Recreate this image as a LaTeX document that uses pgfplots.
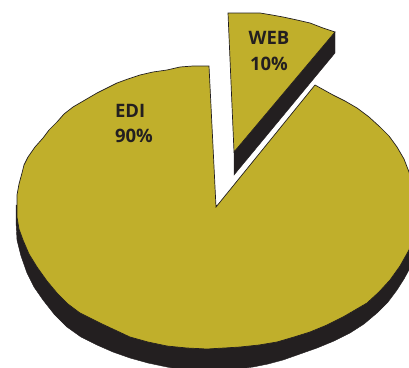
\documentclass[border=0pt]{standalone}
\usepackage{pgfplots}
\pgfplotsset{compat=1.18}
\usepackage{pgfplotstable}
\usepackage{fontspec}
\setmainfont{Open Sans}
\definecolor{pieolive}{RGB}{192,175,43}
\definecolor{piedark}{RGB}{35,31,32}

% outlines, in pixels
\pgfplotstableread{
x y
16 205
16 222
17 240
21 256
27 273
34 287
43 300
54 314
67 327
81 337
97 345
113 352
130 358
148 363
167 367
185 370
205 371
230 370
253 367
268 364
283 360
300 354
317 348
334 341
350 333
364 324
377 313
388 302
397 290
404 279
410 268
414 250
414 205
}\edidark
\pgfplotstableread{
x y
209 66
193 66
180 67
167 70
153 72
140 75
128 79
117 83
107 88
97 93
85 100
73 107
64 114
57 122
49 130
43 138
35 147
28 157
24 165
22 173
19 184
17 195
17 207
17 217
19 229
23 240
29 254
37 267
47 281
57 293
68 304
80 313
90 318
100 323
115 330
130 337
148 342
167 346
187 348
207 349
224 348
240 347
259 345
277 342
294 337
310 332
327 325
343 317
355 310
367 303
379 292
390 280
400 266
409 250
414 230
414 190
409 172
404 159
397 147
389 136
380 127
369 117
357 108
345 101
333 95
324 90
315 85
216 207
}\edislice
\pgfplotstableread{
x y
335 32
335 53
234 175
234 152
}\webdark
\pgfplotstableread{
x y
228 13
260 13
272 15
283 17
297 20
310 23
323 28
335 32
234 152
}\webslice

\begin{document}
\begin{tikzpicture}
\begin{axis}[
  scale only axis,
  width=409pt,
  height=367pt,
  xmin=0, xmax=409,
  ymin=0, ymax=367,
  y dir=reverse,
  hide axis,
  clip=true,
]
\addplot[fill=piedark, draw=piedark, no markers] table[x=x,y=y] {\edidark} -- cycle;
\addplot[fill=pieolive, draw=piedark, line width=0.7pt, no markers] table[x=x,y=y] {\edislice} -- cycle;
\addplot[fill=piedark, draw=piedark, no markers] table[x=x,y=y] {\webdark} -- cycle;
\addplot[fill=pieolive, draw=piedark, line width=0.7pt, no markers] table[x=x,y=y] {\webslice} -- cycle;
\node[text=piedark, font=\fontsize{18.5}{26}\selectfont\bfseries, align=center] at (axis cs:269,51) {WEB\\10\%};
\node[text=piedark, font=\fontsize{18.5}{25}\selectfont\bfseries, align=left] at (axis cs:134,123) {EDI\\90\%};
\end{axis}
\path (current axis.south west) rectangle (current axis.north east);
\end{tikzpicture}
\end{document}
